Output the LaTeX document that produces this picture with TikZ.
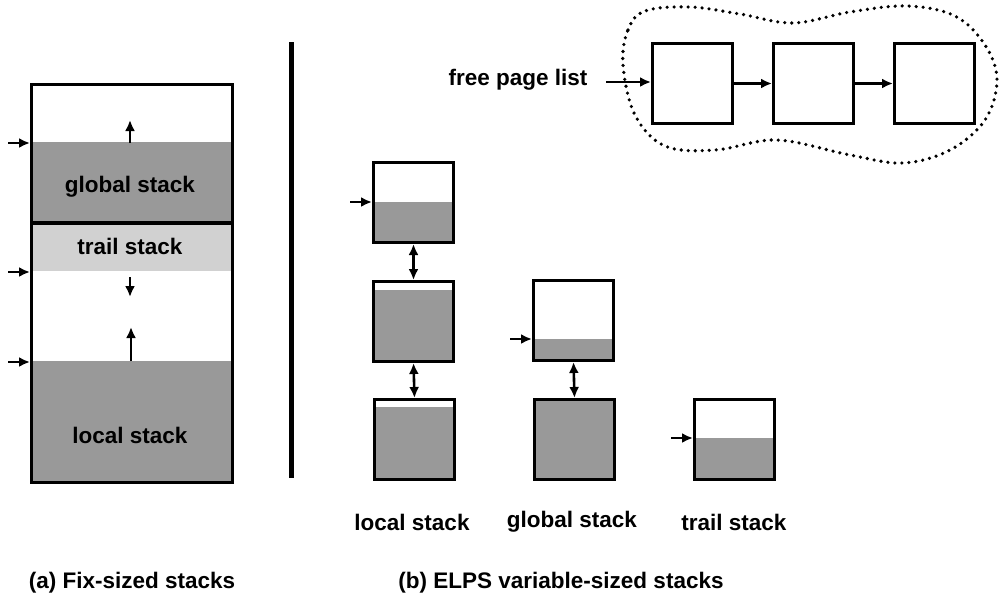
\documentclass[tikz,border=0pt]{standalone}
\usepackage{fontspec}
\setmainfont{Liberation Sans}
\usetikzlibrary{arrows.meta}

\begin{document}
\begin{tikzpicture}[x=1pt,y=-1pt,
  lbl/.style={font=\fontsize{22.5}{27}\selectfont\bfseries, inner sep=0pt},
  page/.style={draw, line width=3pt, inner sep=0pt, anchor=north west,
    minimum width=80pt, minimum height=80pt},
  deep/.style={fill=black!40},
  light/.style={fill=black!18},
  ptr/.style={line width=2.6pt, -{Latex[length=11pt,width=10pt]}},
  dptr/.style={line width=2.6pt, {Latex[length=11pt,width=10pt]}-{Latex[length=11pt,width=10pt]}},
  blob/.style={line width=3.6pt, line cap=round, dash pattern=on 0pt off 7pt}]

\useasboundingbox (0,0) rectangle (999,598);

% ---------- (a) fixed-size stacks ----------
\fill[deep]  (30,142) rectangle (231,223);
\fill[light] (30,223) rectangle (231,271);
\fill[deep]  (30,361) rectangle (231,481);
\node[draw, line width=3pt, inner sep=0pt, anchor=north west,
      minimum width=201pt, minimum height=398pt] (fixed) at (30,83) {};
\coordinate (splitL) at (30,223);
\coordinate (splitR) at (231,223);
\draw[line width=3.6pt] (splitL) -- (splitR);

\node[lbl] (gsA) at (130,187) {global stack};
\node[lbl] (tsA) at (130,246) {trail stack};
\node[lbl] (lsA) at (130,435) {local stack};

% stack tops and growth directions
\coordinate (gtopIn) at (8,143);
\coordinate (ttopIn) at (8,272);
\coordinate (ltopIn) at (8,362);
\draw[ptr] (gtopIn) -- (gtopIn -| fixed.west);
\draw[ptr] (ttopIn) -- (ttopIn -| fixed.west);
\draw[ptr] (ltopIn) -- (ltopIn -| fixed.west);

\coordinate (gUp0) at (130,143);  \coordinate (gUp1) at (130,120);
\coordinate (tDn0) at (130,277);  \coordinate (tDn1) at (130,297);
\coordinate (lUp0) at (131,361);  \coordinate (lUp1) at (131,327);
\draw[ptr] (gUp0) -- (gUp1);
\draw[ptr] (tDn0) -- (tDn1);
\draw[ptr] (lUp0) -- (lUp1);

% separator
\coordinate (sepTop) at (291,42);
\coordinate (sepBot) at (291,478);
\draw[line width=5pt] (sepTop) -- (sepBot);

% ---------- (b) variable-sized stacks ----------
\fill[deep] (372,202) rectangle (452,241);
\fill[deep] (372,290) rectangle (452,360);
\fill[deep] (373,407) rectangle (453,478);
\fill[deep] (532,339) rectangle (612,359);
\fill[deep] (533,401) rectangle (613,478);
\fill[deep] (693,438) rectangle (773,478);

\node[page] (L1) at (372,161) {};
\node[page] (L2) at (372,280) {};
\node[page] (L3) at (373,398) {};
\node[page] (G1) at (532,279) {};
\node[page] (G2) at (533,398) {};
\node[page] (T1) at (693,398) {};

\draw[dptr] (L1.south) -- (L2.north);
\draw[dptr] (L2.south) -- (L3.north);
\draw[dptr] (G1.south) -- (G2.north);

\coordinate (l1In) at (350,202);
\coordinate (g1In) at (510,339);
\coordinate (t1In) at (671,438);
\draw[ptr] (l1In) -- (l1In -| L1.west);
\draw[ptr] (g1In) -- (g1In -| G1.west);
\draw[ptr] (t1In) -- (t1In -| T1.west);

\node[lbl] (lsB) at (412,522) {local stack};
\node[lbl] (gsB) at (572,522) {global stack};
\node[lbl] (tsB) at (734,522) {trail stack};

% free page list
\draw[blob] plot[smooth cycle, tension=0.6] coordinates {
  (623,65) (628,30) (645,11) (690,7) (740,14) (793,23) (850,12) (907,6)
  (955,16) (985,45) (997,80) (985,120) (950,150) (903,163) (850,155)
  (777,140) (715,150) (665,146) (635,115)};

\node[page] (FA) at (651,42) {};
\node[page] (FB) at (772,42) {};
\node[page] (FC) at (893,42) {};
\node[lbl] (fpl) at (518,80) {free page list};
\coordinate (fIn) at (606,82);
\draw[ptr] (fIn) -- (fIn -| FA.west);
\draw[ptr] (FA.east) -- (FB.west);
\draw[ptr] (FB.east) -- (FC.west);

% captions
\node[lbl] (capA) at (132,583) {(a) Fix-sized stacks};
\node[lbl] (capB) at (561,583) {(b) ELPS variable-sized stacks};
\end{tikzpicture}
\end{document}
